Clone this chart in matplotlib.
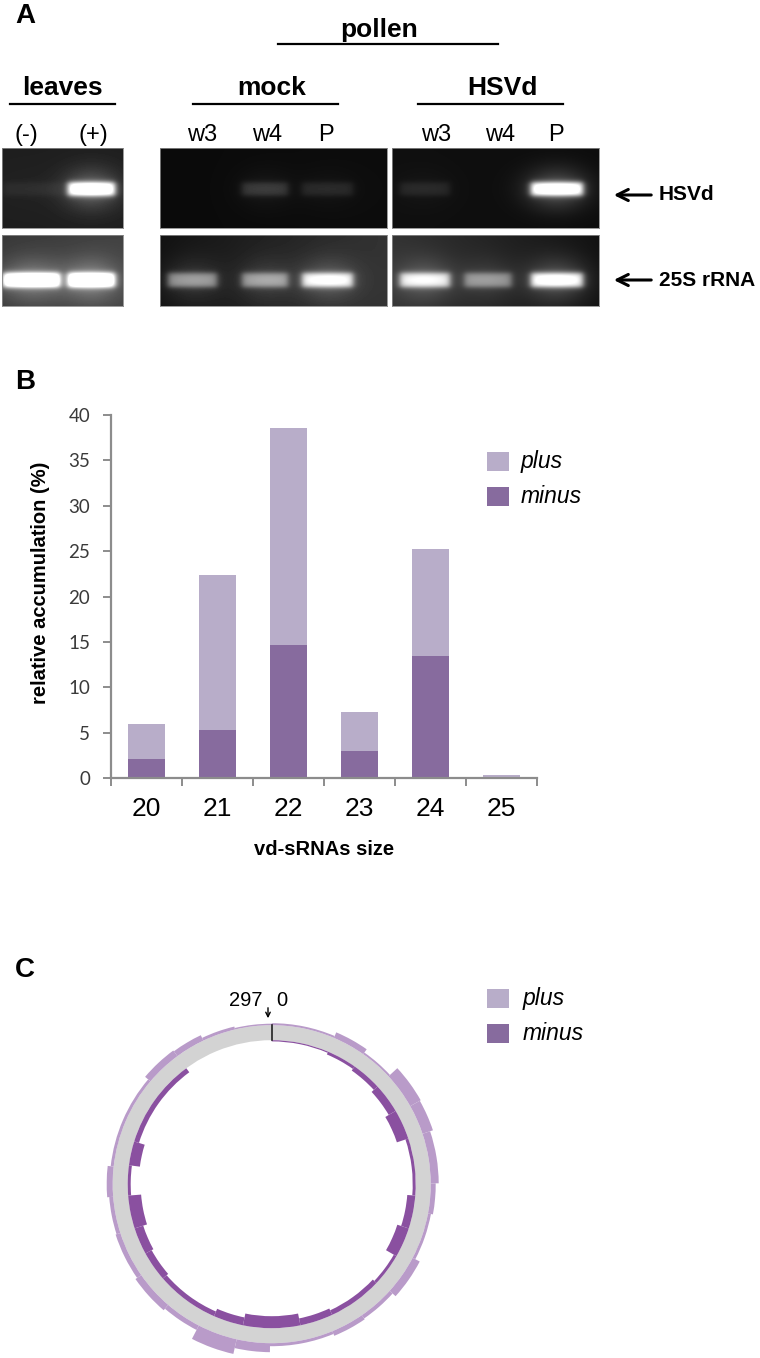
import numpy as np
import matplotlib
matplotlib.use("Agg")
import matplotlib.pyplot as plt
from matplotlib.patches import Rectangle

plt.rcParams['font.family'] = ['Liberation Sans', 'DejaVu Sans']

# ---- panel A: RT-PCR gels (band brightness per lane, 0..1)
lanes_leaves = ["(-)", "(+)"]
lanes_pollen = ["w3", "w4", "P"]
hsvd_leaves = [0.05, 1.0]
rrna_leaves = [1.0, 1.0]
hsvd_mock = [0.0, 0.16, 0.1]
rrna_mock = [0.45, 0.45, 0.75]
hsvd_hsvd = [0.09, 0.0, 1.0]
rrna_hsvd = [0.7, 0.4, 0.85]

# ---- panel B: vd-sRNA size distribution (%)
sizes = ["20", "21", "22", "23", "24", "25"]
minus_pct = [2.1, 5.25, 14.7, 3.0, 13.4, 0.1]
plus_pct = [3.9, 17.15, 23.9, 4.3, 11.8, 0.25]

# ---- panel C: coverage along the 297 nt genome (segment starts, heights)
genome_len = 297
plus_start = [0, 19, 29, 39, 50, 59, 74, 83, 97, 109, 120, 130, 149, 159, 171, 182,
              194, 208, 219, 228, 256, 267, 276, 286]
plus_cov = [2, 6, 2, 12, 11, 8, 5, 3, 8, 4, 5, 3, 9, 15, 5, 7, 5, 4, 6, 3, 7, 6, 3, 1.5]
minus_start = [0, 19, 29, 39, 49, 59, 78, 89, 99, 110, 128, 139, 158, 168, 189, 199,
               208, 219, 229, 237, 267]
minus_cov = [1.2, 3, 5, 8, 12, 3, 8, 12, 3, 5, 7, 12, 8, 5, 7, 9, 13, 3, 11, 5, 0]

W, H = 760, 1358
c_plus = '#b8adc9'
c_minus = '#876b9e'
c_plus_ring = '#b99bc9'
c_minus_ring = '#8a50a0'


def rect(x0, y0, x1, y1):
    return [x0 / W, 1 - y1 / H, (x1 - x0) / W, (y1 - y0) / H]


def gel_image(w, h, bg_l, bg_r, centers, widths, yc, bh, levels):
    X, Y = np.meshgrid(np.arange(w) + 0.5, np.arange(h) + 0.5)
    img = bg_l + (bg_r - bg_l) * X / w
    for c, bw, lv in zip(centers, widths, levels):
        sx = 1 / (1 + np.exp((np.abs(X - c) - bw / 2) / 2.0))
        sy = 1 / (1 + np.exp((np.abs(Y - yc) - bh / 2) / 1.5))
        glow = np.exp(-((X - c) / (bw * 0.6)) ** 2 - ((Y - yc) / (bh * 1.6)) ** 2)
        img = img + lv * (0.95 * sx * sy + 0.25 * glow)
    return np.clip(img, 0, 1)


fig = plt.figure(figsize=(W / 100, H / 100), dpi=100)
ax0 = fig.add_axes([0, 0, 1, 1])
ax0.set_xlim(0, W)
ax0.set_ylim(H, 0)
ax0.axis('off')
ax0.set_zorder(10)

# gels
gels = [
    (2, 123, [29.5, 89.5], [57, 47], hsvd_leaves, rrna_leaves, (0.12, 0.12), (0.22, 0.26)),
    (160, 387, [32.5, 105, 167.5], [49, 46, 51], hsvd_mock, rrna_mock, (0.04, 0.05), (0.07, 0.2)),
    (392, 599, [33, 96, 165], [50, 47, 52], hsvd_hsvd, rrna_hsvd, (0.06, 0.05), (0.2, 0.07)),
]
for x0, x1, cen, wid, top_lv, bot_lv, bg_top, bg_bot in gels:
    for (y0, y1, yc, bh, lv, bg) in [(148, 228, 41, 13, top_lv, bg_top),
                                     (235, 306, 45, 14, bot_lv, bg_bot)]:
        g = fig.add_axes(rect(x0, y0, x1, y1))
        img = gel_image(x1 - x0, y1 - y0, bg[0], bg[1], cen, wid, yc, bh, lv)
        g.imshow(img, cmap='gray', vmin=0, vmax=1, aspect='auto', interpolation='bilinear')
        g.set_xticks([])
        g.set_yticks([])
        for s in g.spines.values():
            s.set_color('#888888')
            s.set_linewidth(0.6)

hdr = dict(fontsize=19, fontweight='bold', ha='center', va='baseline')
ax0.text(25, 16, "A", fontsize=20, fontweight='bold', ha='center', va='center')
ax0.text(379, 37, "pollen", **hdr)
ax0.plot([278, 498], [43.5, 43.5], color='k', lw=1.6)
for label, xc, (lx0, lx1) in [("leaves", 62, (10, 115)), ("mock", 272, (193, 338)),
                              ("HSVd", 502, (418, 563))]:
    ax0.text(xc, 95, label, **hdr)
    ax0.plot([lx0, lx1], [104, 104], color='k', lw=1.6)
for lab, xc in zip(lanes_leaves + lanes_pollen + lanes_pollen,
                   [26, 93, 202, 267, 326, 436, 500, 556]):
    ax0.text(xc, 141, lab, fontsize=17, ha='center', va='baseline')
for yv, lab in [(195, "HSVd"), (280, "25S rRNA")]:
    ax0.annotate('', xy=(611, yv), xytext=(654, yv),
                 arrowprops=dict(arrowstyle='->', lw=2.2, color='k', mutation_scale=20))
    ax0.text(659, yv, lab, fontsize=15, fontweight='bold', ha='left', va='center')

# ---- panel B
ax0.text(25, 382, "B", fontsize=20, fontweight='bold', ha='center', va='center')
ax = fig.add_axes(rect(111, 415, 537, 778))
ax.patch.set_alpha(0)
x = np.arange(len(sizes))
ax.bar(x, minus_pct, width=0.52, color=c_minus, edgecolor='none')
ax.bar(x, plus_pct, width=0.52, bottom=minus_pct, color=c_plus, edgecolor='none')
ax.set_xlim(-0.5, len(sizes) - 0.5)
ax.set_ylim(0, 40)
ax.set_yticks(np.arange(0, 41, 5))
ax.set_xticks(x)
ax.set_xticklabels(sizes, fontsize=19)
ax.set_xticks(np.arange(-0.5, len(sizes)), minor=True)
for s in ['top', 'right']:
    ax.spines[s].set_visible(False)
for s in ['left', 'bottom']:
    ax.spines[s].set_color('#8c8c8c')
    ax.spines[s].set_linewidth(1.6)
ax.tick_params(axis='x', which='major', length=0, pad=14)
ax.tick_params(axis='x', which='minor', length=6, width=1.4, color='#8c8c8c')
ax.tick_params(axis='y', length=6, width=1.4, color='#8c8c8c', pad=9,
               labelsize=13.5, labelcolor='#3a3a3a')
for t in ax.get_yticklabels():
    t.set_fontfamily(['Lato', 'DejaVu Sans'])
ax.set_ylabel("relative accumulation (%)", fontsize=14.5, fontweight='bold')
ax.yaxis.set_label_coords(-0.143, 0.537)
ax.set_xlabel("vd-sRNAs size", fontsize=14.5, fontweight='bold', va='top')
ax.xaxis.set_label_coords(0.5, -0.172)

for yy, col, lab in [(452, c_plus, "plus"), (487, c_minus, "minus")]:
    ax0.add_patch(Rectangle((487, yy), 22, 19, facecolor=col, edgecolor='none'))
    ax0.text(521, yy + 9.5, lab, fontsize=16.5, style='italic', ha='left', va='center')

# ---- panel C
ax0.text(25, 970, "C", fontsize=20, fontweight='bold', ha='center', va='center')
cx, cy, R = 271.7, 1184.2, 176
pc = fig.add_axes(rect(cx - R, cy - R, cx + R, cy + R), projection='polar')
pc.set_theta_zero_location('N')
pc.set_theta_direction(-1)
pc.set_ylim(0, R)
pc.axis('off')
r_in, r_out = 144, 159
pc.bar(0, r_out - r_in, width=2 * np.pi, bottom=r_in, color='#d3d3d3', edgecolor='none')

p_st = np.array(plus_start, dtype=float)
p_en = np.append(p_st[1:], genome_len)
th = p_st / genome_len * 2 * np.pi
wd = (p_en - p_st) / genome_len * 2 * np.pi
pc.bar(th, plus_cov, width=wd, bottom=r_out, align='edge', color=c_plus_ring, edgecolor='none')

m_st = np.array(minus_start, dtype=float)
m_en = np.append(m_st[1:], genome_len)
th = m_st / genome_len * 2 * np.pi
wd = (m_en - m_st) / genome_len * 2 * np.pi
mc = np.array(minus_cov, dtype=float)
pc.bar(th, mc, width=wd, bottom=r_in - mc, align='edge', color=c_minus_ring, edgecolor='none')
pc.plot([0, 0], [r_in, r_out], color='#222222', lw=1.2)

ax0.annotate('', xy=(268, 1021), xytext=(268, 1005),
             arrowprops=dict(arrowstyle='->', lw=1.0, color='k', mutation_scale=8))
ax0.text(262, 1001, "297", fontsize=14.5, ha='right', va='center')
ax0.text(276, 1001, "0", fontsize=14.5, ha='left', va='center')

for yy, col, lab in [(989, c_plus, "plus"), (1024, c_minus, "minus")]:
    ax0.add_patch(Rectangle((487, yy), 22, 19, facecolor=col, edgecolor='none'))
    ax0.text(523, yy + 9.5, lab, fontsize=16.5, style='italic', ha='left', va='center')

fig.savefig("out.png", dpi=100)
